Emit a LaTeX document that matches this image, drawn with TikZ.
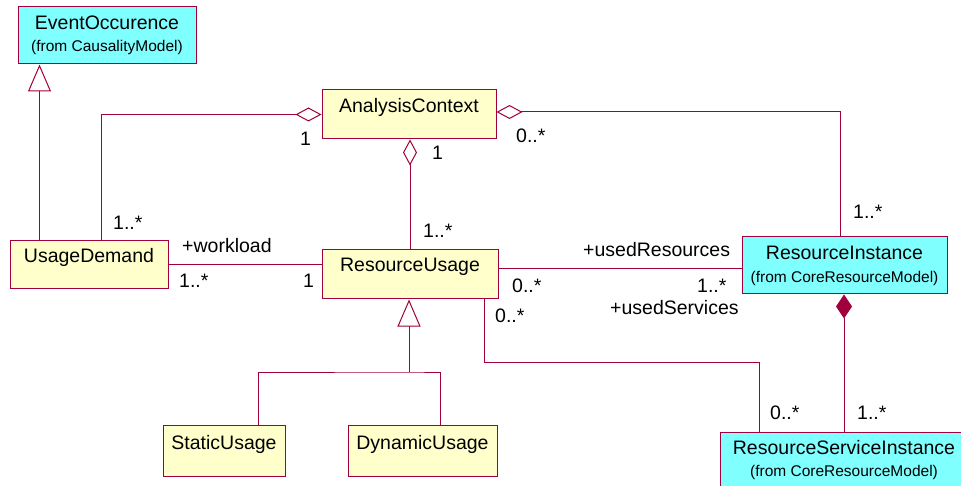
\documentclass[tikz,border=0pt]{standalone}
\usepackage{fontspec}
\setmainfont{Liberation Sans}
\usetikzlibrary{arrows.meta}
\definecolor{umlline}{RGB}{160,0,60}
\definecolor{umlfill}{RGB}{255,255,204}
\definecolor{umlcyan}{RGB}{128,255,255}

\begin{document}
\begin{tikzpicture}[x=1pt,y=-1pt]
  \tikzstyle{class}=[rectangle,draw=umlline,line width=1pt,fill=umlfill,inner sep=0pt]
  \tikzstyle{extclass}=[class,fill=umlcyan]
  \tikzstyle{clsname}=[inner sep=0pt,anchor=base,font=\fontsize{19.5}{22}\selectfont]
  \tikzstyle{clsfrom}=[inner sep=0pt,anchor=base,font=\fontsize{15.5}{18}\selectfont]
  \tikzstyle{mult}=[inner sep=0pt,anchor=base west,font=\fontsize{19.5}{22}\selectfont]
  \tikzstyle{assoc}=[draw=umlline,line width=1pt]
  \tikzstyle{gen}=[assoc,-{Triangle[open,length=27pt,width=23pt,fill=white]}]
  \tikzstyle{agg}=[assoc,-{Diamond[open,length=26pt,width=14pt,fill=white]}]
  \tikzstyle{comp}=[assoc,-{Diamond[length=24pt,width=16pt,fill=umlline]}]

  \useasboundingbox (0,0) rectangle (961,486);

  \node[extclass, minimum width=178pt, minimum height=57pt] (eo) at (107,35.5) {};
  \node[clsname] (eoN) at ([yshift=-23pt]eo.north) {EventOccurence};
  \node[clsfrom] (eoF) at ([yshift=-45pt]eo.north) {(from CausalityModel)};

  \node[class, minimum width=174pt, minimum height=49pt] (ac) at (409,114.5) {};
  \node[clsname] (acN) at ([yshift=-23pt]ac.north) {AnalysisContext};

  \node[class, minimum width=158pt, minimum height=48pt] (ud) at (89,265) {};
  \node[clsname] (udN) at ([yshift=-22pt]ud.north) {UsageDemand};

  \node[class, minimum width=176pt, minimum height=49pt] (ru) at (410,274.5) {};
  \node[clsname] (ruN) at ([yshift=-22pt]ru.north) {ResourceUsage};

  \node[extclass, minimum width=205pt, minimum height=57pt] (ri) at (844.5,265.5) {};
  \node[clsname] (riN) at ([yshift=-23pt]ri.north) {ResourceInstance};
  \node[clsfrom] (riF) at ([yshift=-46pt]ri.north) {(from CoreResourceModel)};

  \node[class, minimum width=122pt, minimum height=51pt] (su) at (224,450.5) {};
  \node[clsname] (suN) at ([yshift=-25pt]su.north) {StaticUsage};

  \node[class, minimum width=149pt, minimum height=51pt] (du) at (422.5,450.5) {};
  \node[clsname] (duN) at ([yshift=-25pt]du.north) {DynamicUsage};

  \node[extclass, minimum width=248pt, minimum height=58pt] (rsi) at (844,461) {};
  \node[clsname] (rsiN) at ([yshift=-23pt]rsi.north) {ResourceServiceInstance};
  \node[clsfrom] (rsiF) at ([yshift=-45pt]rsi.north) {(from CoreResourceModel)};

  % links
  \draw[gen] ([xshift=30pt]ud.north west) -- ([xshift=30pt]ud.north west |- eo.south);
  \draw[agg] ([xshift=12pt]ud.north) |- (ac.west);
  \draw[agg] (ru.north) -- (ru.north |- ac.south);
  \draw[agg] ([xshift=-4.5pt]ri.north) |- ([yshift=2.5pt]ac.east);
  \draw[assoc] (ud.east) -- (ud.east -| ru.west);
  \draw[assoc] ([yshift=5.5pt]ru.east) -- ([yshift=5.5pt]ru.east -| ri.west);
  \draw[assoc] ([xshift=74pt]ru.south) -- ++(0,63) -| ([xshift=-85pt]rsi.north);
  \draw[comp] (rsi.north) -- (rsi.north |- ri.south);

  \coordinate (fork) at (409,372);
  \draw[assoc] ([xshift=34pt]su.north) |- (fork) -| ([xshift=17.5pt]du.north);
  \draw[gen] (fork) -- (fork |- ru.south);

  % multiplicities and roles
  \node[mult] (m1) at (300,146) {1};
  \node[mult] (m2) at (432,160) {1};
  \node[mult] (m3) at (516,143) {0..*};
  \node[mult] (m4) at (113,230) {1..*};
  \node[mult] (m5) at (423,238) {1..*};
  \node[mult] (m6) at (853,219) {1..*};
  \node[mult] (r1) at (182,253) {+workload};
  \node[mult] (m7) at (179,288) {1..*};
  \node[mult] (m8) at (303,288) {1};
  \node[mult] (r2) at (583,257) {+usedResources};
  \node[mult] (m9) at (512,293) {0..*};
  \node[mult] (m10) at (697,293) {1..*};
  \node[mult] (r3) at (610,315) {+usedServices};
  \node[mult] (m11) at (495,323) {0..*};
  \node[mult] (m12) at (770,419) {0..*};
  \node[mult] (m13) at (857,419) {1..*};
\end{tikzpicture}
\end{document}
